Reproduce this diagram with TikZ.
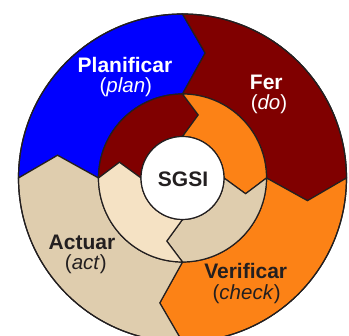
\documentclass[tikz,border=0pt]{standalone}
\usepackage{fontspec}
\setmainfont{Liberation Sans}
\definecolor{cblue}{RGB}{0,0,255}
\definecolor{cdred}{RGB}{128,0,0}
\definecolor{corange}{RGB}{252,130,22}
\definecolor{ctan}{RGB}{223,205,174}
\definecolor{cltan}{RGB}{245,226,196}
\definecolor{cline}{RGB}{35,31,32}
\newcommand{\pdcaseg}[7]{%
  \filldraw[segstyle,fill=#7] (#1:#4pt) arc[start angle=#1, end angle=#2, radius=#4pt]
    -- ({#2-#6}:#5pt) -- (#2:#3pt) arc[start angle=#2, end angle=#1, radius=#3pt]
    -- ({#1-#6}:#5pt) -- cycle;}
\tikzset{
  segstyle/.style={draw=cline, line width=1.2pt, line join=miter},
  bigtxt/.style={anchor=base, font=\fontsize{21}{25}\selectfont\bfseries},
  subtxt/.style={anchor=base, font=\fontsize{20.5}{25}\selectfont},
}
\begin{document}
\begin{tikzpicture}
\useasboundingbox (-182.5pt,-158pt) rectangle (166.5pt,178pt);
% outer ring
\pdcaseg{180}{90}{84}{164}{127}{10.3}{cblue}
\pdcaseg{90}{0}{84}{164}{127}{10.3}{cdred}
\pdcaseg{0}{-90}{84}{164}{127}{10.3}{corange}
\pdcaseg{270}{180}{84}{164}{127}{10.3}{ctan}
% inner ring
\pdcaseg{180}{90}{41.5}{84}{65}{14}{cdred}
\pdcaseg{90}{0}{41.5}{84}{65}{14}{corange}
\pdcaseg{0}{-90}{41.5}{84}{65}{14}{ctan}
\pdcaseg{270}{180}{41.5}{84}{65}{14}{cltan}
\draw[segstyle] (0,0) circle[radius=164pt];
\node[circle, draw=cline, line width=1.2pt, fill=white, minimum size=83pt, inner sep=0pt] (core) at (0,0) {};
\node[bigtxt, text=cline] (sgsi) at (0.5pt,-8.7pt) {SGSI};
% labels
\node[bigtxt, text=white] (plan) at (-57.5pt,105.3pt) {Planificar};
\node[subtxt, text=white] (plansub) at (-56.7pt,85.3pt) {(\textit{plan})};
\node[bigtxt, text=white] (fer) at (83.8pt,88pt) {Fer};
\node[subtxt, text=white] (fersub) at (86.5pt,68pt) {(\textit{do})};
\node[bigtxt, text=cline] (act) at (-100.5pt,-72pt) {Actuar};
\node[subtxt, text=cline] (actsub) at (-96.7pt,-92pt) {(\textit{act})};
\node[bigtxt, text=cline] (ver) at (63.2pt,-100.3pt) {Verificar};
\node[subtxt, text=cline] (versub) at (64.2pt,-122pt) {(\textit{check})};
\end{tikzpicture}
\end{document}
